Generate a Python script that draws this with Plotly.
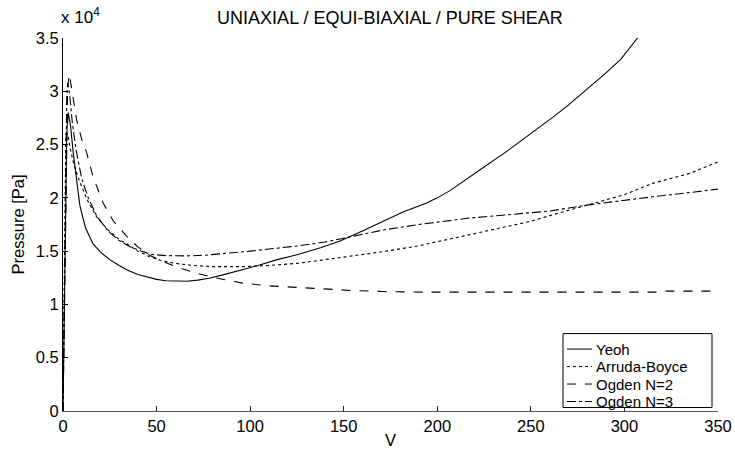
import plotly.graph_objects as go

# ---- data ----
yeoh_x = [0, 0.5, 1, 1.5, 2, 2.8, 4, 5.5, 7, 9, 12, 16, 20, 25, 30, 34, 40, 45, 50, 55,
          60, 66, 72, 78, 85, 96, 105, 114, 126, 138, 148, 160, 171, 182, 194, 200, 207,
          215, 225, 235, 242, 250, 262, 270, 280, 290, 298, 307]
yeoh_y = [0, 6000, 13000, 20000, 26000, 28000, 26800, 24200, 22000, 19300, 17200, 15700,
          14900, 14200, 13650, 13250, 12800, 12550, 12350, 12220, 12180, 12180, 12280,
          12450, 12750, 13250, 13700, 14180, 14700, 15350, 15950, 16900, 17800, 18700,
          19500, 20000, 20700, 21700, 22900, 24100, 25000, 26100, 27600, 28700, 30200,
          31700, 33000, 35000]

ab_x = [0, 0.5, 1, 1.5, 2.5, 4, 6, 9, 13, 18, 24, 30, 34, 40, 46, 52, 60, 70, 80, 96,
        110, 126, 140, 155, 171, 190, 216, 235, 250, 260, 280, 300, 315, 335, 350]
ab_y = [0, 9000, 18000, 26000, 26000, 24500, 23000, 21500, 19800, 18200, 17000, 16100,
        15700, 15000, 14500, 14150, 13850, 13650, 13550, 13550, 13650, 13870, 14200,
        14550, 14950, 15500, 16500, 17200, 17800, 18330, 19320, 20300, 21360, 22300, 23380]

og2_x = [0, 0.5, 1, 1.5, 2, 2.5, 3.4, 5, 7.3, 10, 12.7, 16, 21.5, 27, 34, 40, 46.5, 53,
         61, 70, 78.5, 87, 96, 110, 126, 140, 155, 171, 192, 220, 250, 280, 320, 322, 350]
og2_y = [0, 7000, 14000, 21000, 27000, 30500, 31600, 30000, 27300, 25500, 24200, 22000,
         19500, 17800, 16400, 15400, 14600, 14050, 13500, 13000, 12600, 12300, 12000,
         11750, 11580, 11420, 11300, 11210, 11150, 11150, 11150, 11150, 11150, 11250, 11250]

og3_x = [0, 0.5, 1, 1.5, 2, 2.5, 3.5, 5, 7, 10, 13.5, 18, 24, 30, 36, 42, 47, 55, 66, 76,
         88, 100, 114, 126, 140, 155, 171, 190, 216, 240, 260, 280, 300, 315, 335, 350]
og3_y = [0, 8000, 16000, 24000, 29500, 30800, 29800, 27000, 24500, 21800, 20000, 18300,
         16900, 16000, 15400, 15000, 14700, 14580, 14550, 14620, 14800, 15000, 15270,
         15500, 15850, 16400, 16980, 17500, 18080, 18450, 18760, 19320, 19800, 20100,
         20500, 20820]

series_names = ["Yeoh", "Arruda-Boyce", "Ogden N=2", "Ogden N=3"]
x_ticks = [0, 50, 100, 150, 200, 250, 300, 350]
y_ticks = [0, 5000, 10000, 15000, 20000, 25000, 30000, 35000]
y_tick_text = ["0", "0.5", "1", "1.5", "2", "2.5", "3", "3.5"]

FONT = "Liberation Sans, Arial, Helvetica, sans-serif"
W, H = 735, 450
ML, MR, MT, MB = 63, 17, 38, 38.5
PW, PH = W - ML - MR, H - MT - MB


def px(x):  # pixel -> paper x
    return (x - ML) / PW


def py(y):  # pixel -> paper y
    return (H - MB - y) / PH


fig = go.Figure()
dashes = ["solid", "dot", "dash", "dashdot"]
data = [(yeoh_x, yeoh_y), (ab_x, ab_y), (og2_x, og2_y), (og3_x, og3_y)]
for name, (xs, ys), dash in zip(series_names, data, dashes):
    fig.add_trace(go.Scatter(x=xs, y=ys, mode="lines", name=name, showlegend=False,
                             line=dict(color="black", width=1.1, dash=dash)))

fig.update_layout(
    width=W, height=H,
    margin=dict(l=ML, r=MR, t=MT, b=MB),
    paper_bgcolor="white", plot_bgcolor="white",
    font=dict(family=FONT, size=16, color="black"),
    title=dict(text="UNIAXIAL / EQUI-BIAXIAL / PURE SHEAR", x=390 / W, xanchor="center",
               y=1 - 18 / H, yanchor="middle", font=dict(size=18)),
    showlegend=False,
    xaxis=dict(range=[0, 350], tickvals=x_ticks, showgrid=False, zeroline=False,
               showline=True, linecolor="#555", linewidth=1, ticks="inside",
               ticklen=5, tickcolor="#222", mirror=False, automargin=False,
               tickfont=dict(size=16.5),
               title=dict(text="V", standoff=0, font=dict(size=16.5))),
    yaxis=dict(range=[0, 35000], tickvals=y_ticks, ticktext=y_tick_text, showgrid=False,
               zeroline=False, showline=True, linecolor="black", linewidth=1,
               ticks="inside", ticklen=5, tickcolor="black", mirror=False,
               automargin=False, tickfont=dict(size=16.5),
               title=dict(text="Pressure [Pa]", standoff=6, font=dict(size=16.5))),
)

# exponent label
fig.add_annotation(text="x 10<sup>4</sup>", xref="paper", yref="paper", x=0, y=1,
                   xanchor="left", yanchor="bottom", showarrow=False,
                   font=dict(size=17), yshift=9, xshift=-4)

# legend box drawn by hand to match the tight row spacing
box_l, box_r, box_t, box_b = 563, 712, 334, 408
fig.add_shape(type="rect", xref="paper", yref="paper",
              x0=px(box_l), x1=px(box_r), y0=py(box_b), y1=py(box_t),
              line=dict(color="black", width=1), fillcolor="white", layer="above")
row_y = [349.5, 367, 384.5, 402]
for name, dash, ry in zip(series_names, dashes, row_y):
    fig.add_shape(type="line", xref="paper", yref="paper",
                  x0=px(567), x1=px(592), y0=py(ry), y1=py(ry),
                  line=dict(color="black", width=1, dash=dash), layer="above")
    fig.add_annotation(text=name, xref="paper", yref="paper", x=px(594), y=py(ry),
                       xanchor="left", yanchor="middle", showarrow=False,
                       font=dict(size=15))

fig.write_html("out.html")
